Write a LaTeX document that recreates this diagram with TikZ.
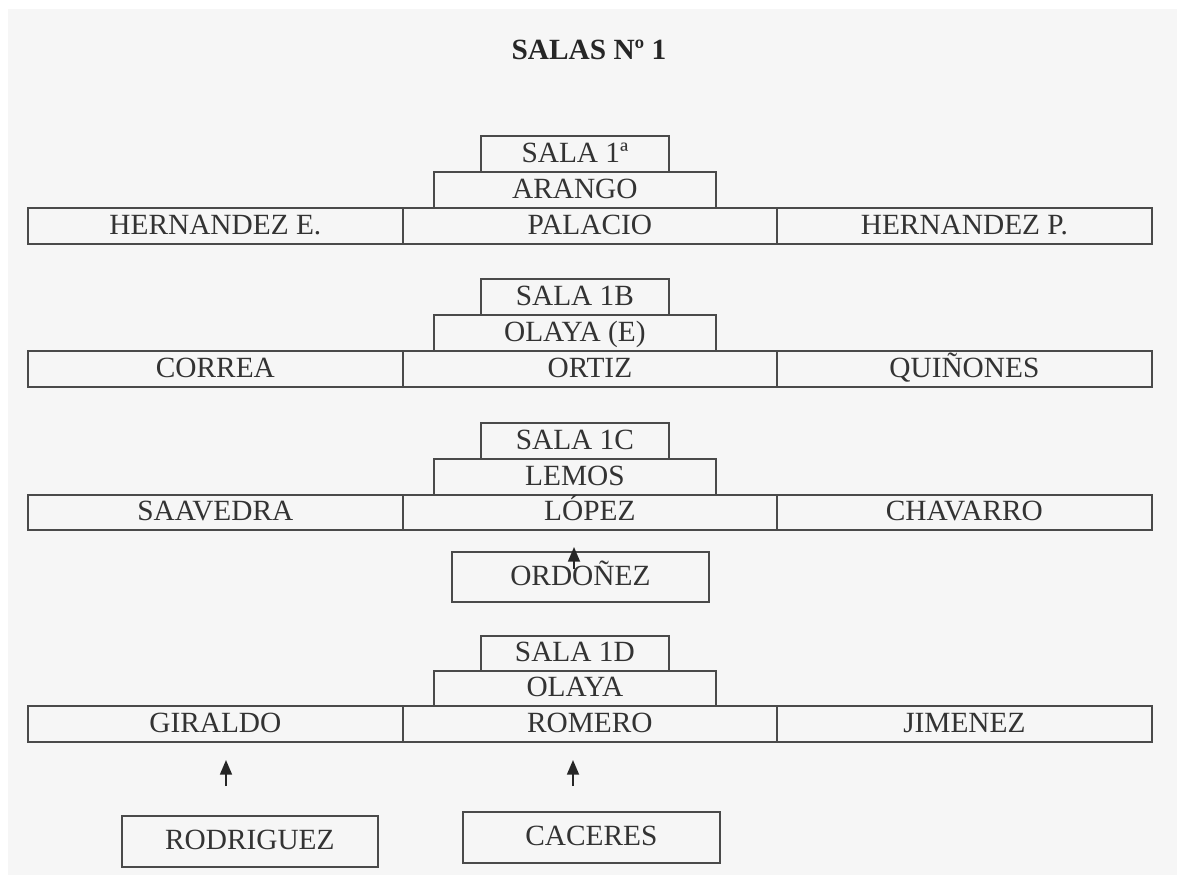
\documentclass[tikz,border=0pt]{standalone}
\usepackage{fontspec}
\setmainfont{Liberation Serif}
\usetikzlibrary{arrows.meta}
\definecolor{bgc}{HTML}{F6F6F6}
\definecolor{linec}{HTML}{4A4A4A}
\definecolor{txtc}{HTML}{333333}
\begin{document}
\begin{tikzpicture}[x=0.75pt,y=-0.75pt,
  cell/.style={draw=linec,line width=1.3pt,fill=bgc,inner sep=0pt,anchor=north west,text=txtc,
    font=\fontsize{22}{24}\selectfont,text height=15.5pt,text depth=3pt},
  arr/.style={-{Triangle[length=11pt,width=9pt]},line width=1.3pt,draw=black!85}]
\useasboundingbox (0,0) rectangle (1177,879);
\fill[white] (0,0) rectangle (1177,879);
\fill[bgc] (8,9) rectangle (1177,875);
\node[font=\bfseries\fontsize{22}{24}\selectfont,text=black!85] (title) at (589,50) {SALAS Nº 1};
% row 1
\node[cell,minimum width=188*0.75pt,minimum height=36*0.75pt] (s1) at (480,135) {SALA 1ª};
\node[cell,minimum width=282*0.75pt,minimum height=36*0.75pt] (p1) at (433,171) {ARANGO};
\node[cell,minimum width=375*0.75pt,minimum height=36*0.75pt] (l1) at (27,207) {HERNANDEZ E.};
\node[cell,minimum width=374*0.75pt,minimum height=36*0.75pt] (m1) at (402,207) {PALACIO};
\node[cell,minimum width=375*0.75pt,minimum height=36*0.75pt] (r1) at (776,207) {HERNANDEZ P.};
% row 2
\node[cell,minimum width=188*0.75pt,minimum height=36*0.75pt] (s2) at (480,278) {SALA 1B};
\node[cell,minimum width=282*0.75pt,minimum height=36*0.75pt] (p2) at (433,314) {OLAYA (E)};
\node[cell,minimum width=375*0.75pt,minimum height=36*0.75pt] (l2) at (27,350) {CORREA};
\node[cell,minimum width=374*0.75pt,minimum height=36*0.75pt] (m2) at (402,350) {ORTIZ};
\node[cell,minimum width=375*0.75pt,minimum height=36*0.75pt] (r2) at (776,350) {QUIÑONES};
% row 3
\node[cell,minimum width=188*0.75pt,minimum height=36*0.75pt] (s3) at (480,422) {SALA 1C};
\node[cell,minimum width=282*0.75pt,minimum height=36*0.75pt] (p3) at (433,458) {LEMOS};
\node[cell,minimum width=375*0.75pt,minimum height=35*0.75pt] (l3) at (27,494) {SAAVEDRA};
\node[cell,minimum width=374*0.75pt,minimum height=35*0.75pt] (m3) at (402,494) {LÓPEZ};
\node[cell,minimum width=375*0.75pt,minimum height=35*0.75pt] (r3) at (776,494) {CHAVARRO};
\node[cell,minimum width=257*0.75pt,minimum height=50*0.75pt] (o3) at (451,551) {ORDOÑEZ};
\coordinate (o3t) at (574,569);
\coordinate (o3h) at (574,547);
\draw[arr] (o3t) -- (o3h);
% row 4
\node[cell,minimum width=188*0.75pt,minimum height=35*0.75pt] (s4) at (480,635) {SALA 1D};
\node[cell,minimum width=282*0.75pt,minimum height=35*0.75pt] (p4) at (433,670) {OLAYA};
\node[cell,minimum width=375*0.75pt,minimum height=36*0.75pt] (l4) at (27,705) {GIRALDO};
\node[cell,minimum width=374*0.75pt,minimum height=36*0.75pt] (m4) at (402,705) {ROMERO};
\node[cell,minimum width=375*0.75pt,minimum height=36*0.75pt] (r4) at (776,705) {JIMENEZ};
\node[cell,minimum width=256*0.75pt,minimum height=51*0.75pt] (rod) at (121,815) {RODRIGUEZ};
\node[cell,minimum width=257*0.75pt,minimum height=51*0.75pt] (cac) at (462,811) {CACERES};
\coordinate (at1) at (226,786);
\coordinate (ah1) at (226,760);
\coordinate (at2) at (573,786);
\coordinate (ah2) at (573,760);
\draw[arr] (at1) -- (ah1);
\draw[arr] (at2) -- (ah2);
\end{tikzpicture}
\end{document}
